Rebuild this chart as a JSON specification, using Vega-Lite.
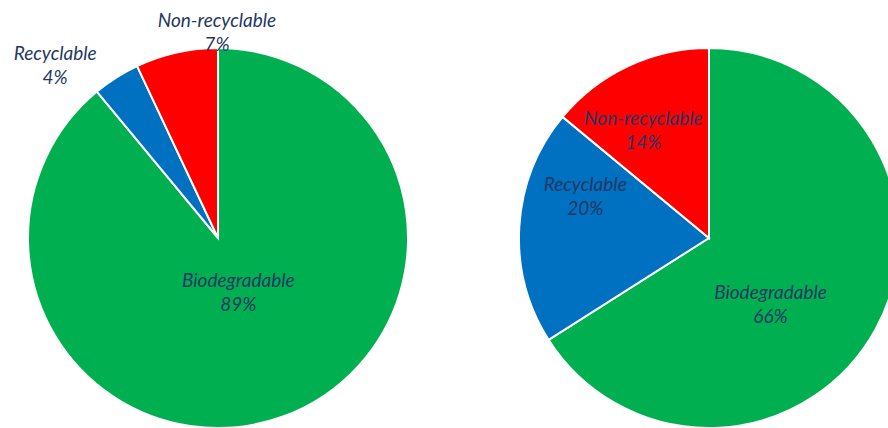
{
  "$schema": "https://vega.github.io/schema/vega-lite/v6.json",
  "autosize": {"type": "none"},
  "padding": {"left": 39, "top": 48, "right": 0, "bottom": 0},
  "width": 849,
  "height": 380,
  "background": "white",
  "config": {"view": {"stroke": null}},
  "data": {"values": [
    {"chart": "A", "category": "Biodegradable", "share": 0.89},
    {"chart": "A", "category": "Recyclable", "share": 0.04},
    {"chart": "A", "category": "Non-recyclable", "share": 0.07},
    {"chart": "B", "category": "Biodegradable", "share": 0.66},
    {"chart": "B", "category": "Recyclable", "share": 0.20},
    {"chart": "B", "category": "Non-recyclable", "share": 0.14}
  ]},
  "transform": [
    {"stack": "share", "groupby": ["chart"], "as": ["s0", "s1"]},
    {"calculate": "(datum.s0 + datum.s1) / 2", "as": "mid"},
    {"calculate": "[datum.category, format(datum.share, '.0%')]", "as": "label"},
    {"calculate": "datum.chart + '|' + datum.category", "as": "key"}
  ],
  "encoding": {
    "x": {"field": "chart", "type": "nominal", "scale": {"type": "point", "padding": 0.3646}, "axis": null}
  },
  "layer": [
    {
      "mark": {"type": "arc", "outerRadius": 190, "stroke": "white", "strokeWidth": 2},
      "encoding": {
        "theta": {"field": "s0", "type": "quantitative", "scale": {"domain": [0, 1]}},
        "theta2": {"field": "s1"},
        "color": {"field": "category", "type": "nominal", "legend": null,
          "scale": {"domain": ["Biodegradable", "Recyclable", "Non-recyclable"], "range": ["#00b050", "#0070c0", "#ff0000"]}}
      }
    },
    {
      "transform": [{"filter": "datum.key === 'A|Biodegradable'"}],
      "mark": {"type": "text", "radius": 57, "dx": 1, "dy": -11, "font": "Lato", "fontStyle": "italic", "fontSize": 19, "lineHeight": 24, "color": "#1f3864", "align": "center", "baseline": "middle"},
      "encoding": {"theta": {"field": "mid", "type": "quantitative"}, "text": {"field": "label"}}
    },
    {
      "transform": [{"filter": "datum.key === 'A|Recyclable'"}],
      "mark": {"type": "text", "radius": 233, "dx": -38, "dy": 13, "font": "Lato", "fontStyle": "italic", "fontSize": 19, "lineHeight": 24, "color": "#1f3864", "align": "center", "baseline": "middle"},
      "encoding": {"theta": {"field": "mid", "type": "quantitative"}, "text": {"field": "label"}}
    },
    {
      "transform": [{"filter": "datum.key === 'A|Non-recyclable'"}],
      "mark": {"type": "text", "radius": 202, "dx": 43, "dy": -20, "font": "Lato", "fontStyle": "italic", "fontSize": 19, "lineHeight": 24, "color": "#1f3864", "align": "center", "baseline": "middle"},
      "encoding": {"theta": {"field": "mid", "type": "quantitative"}, "text": {"field": "label"}}
    },
    {
      "transform": [{"filter": "datum.key === 'B|Biodegradable'"}],
      "mark": {"type": "text", "radius": 85, "dx": -13, "dy": 14, "font": "Lato", "fontStyle": "italic", "fontSize": 19, "lineHeight": 24, "color": "#1f3864", "align": "center", "baseline": "middle"},
      "encoding": {"theta": {"field": "mid", "type": "quantitative"}, "text": {"field": "label"}}
    },
    {
      "transform": [{"filter": "datum.key === 'B|Recyclable'"}],
      "mark": {"type": "text", "radius": 126, "dx": 2, "dy": -45, "font": "Lato", "fontStyle": "italic", "fontSize": 19, "lineHeight": 24, "color": "#1f3864", "align": "center", "baseline": "middle"},
      "encoding": {"theta": {"field": "mid", "type": "quantitative"}, "text": {"field": "label"}}
    },
    {
      "transform": [{"filter": "datum.key === 'B|Non-recyclable'"}],
      "mark": {"type": "text", "radius": 126, "dx": -12, "dy": -5, "font": "Lato", "fontStyle": "italic", "fontSize": 19, "lineHeight": 24, "color": "#1f3864", "align": "center", "baseline": "middle"},
      "encoding": {"theta": {"field": "mid", "type": "quantitative"}, "text": {"field": "label"}}
    }
  ]
}
